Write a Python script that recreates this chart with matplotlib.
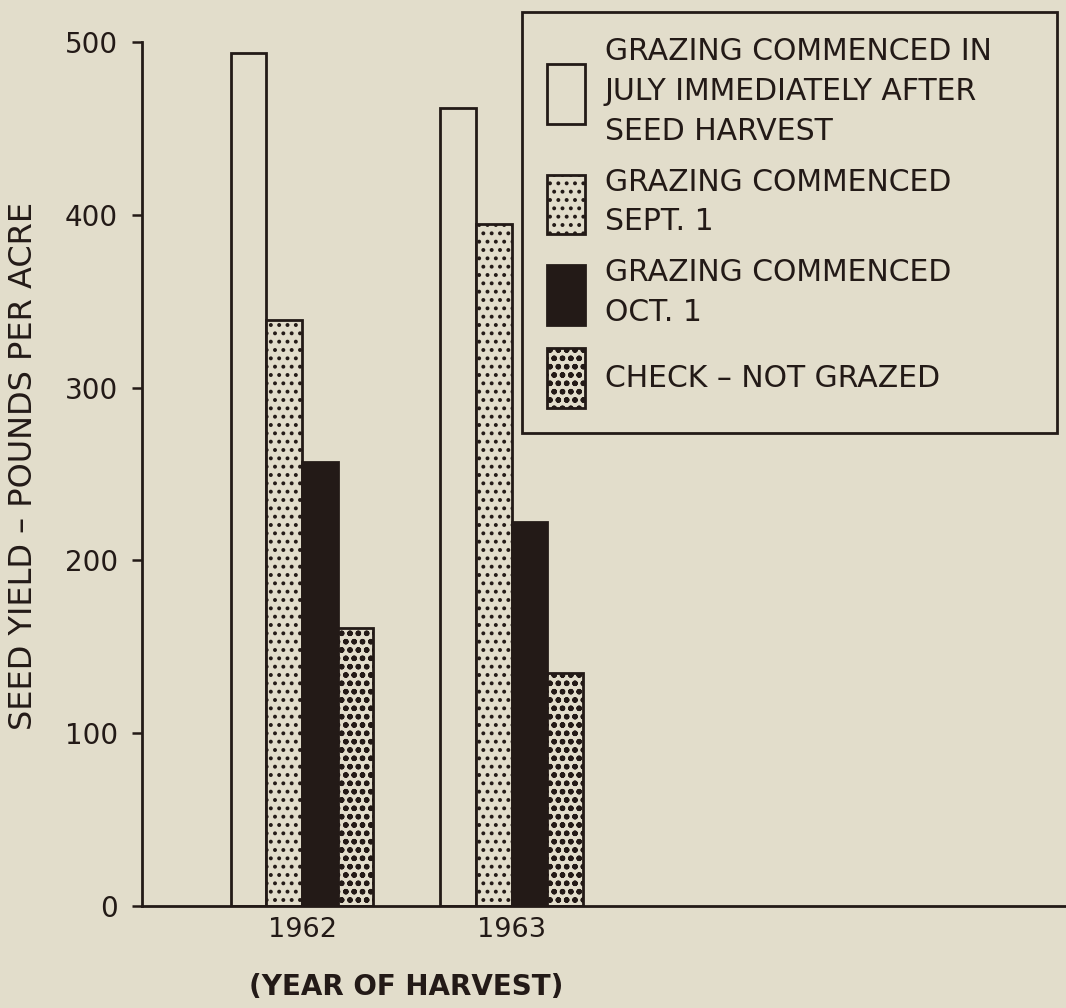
import matplotlib
matplotlib.use("Agg")
import matplotlib.pyplot as plt
import numpy as np

# ---- data ----
years = ["1962", "1963"]
series_labels = [
    "GRAZING COMMENCED IN\nJULY IMMEDIATELY AFTER\nSEED HARVEST",
    "GRAZING COMMENCED\nSEPT. 1",
    "GRAZING COMMENCED\nOCT. 1",
    "CHECK \u2013 NOT GRAZED",
]
july = [494, 462]
sept = [339, 395]
octo = [257, 222]
check = [161, 135]
yticks = [0, 100, 200, 300, 400, 500]

BG = "#e2ddcb"
INK = "#231a17"

plt.rcParams["font.family"] = ["DejaVu Sans"]
plt.rcParams["hatch.linewidth"] = 1.6
plt.rcParams["hatch.color"] = INK

fig = plt.figure(figsize=(10.66, 10.08), dpi=100, facecolor=BG)
ax = fig.add_axes([0.1332, 0.1012, 0.8668, 0.857])
ax.set_facecolor(BG)

x = np.arange(len(years))
w = 0.17
styles = [
    dict(color=BG, hatch=None),
    dict(color=BG, hatch=".."),
    dict(color=INK, hatch=None),
    dict(color=BG, hatch="oo"),
]
series = [july, sept, octo, check]
for i, (vals, st, lab) in enumerate(zip(series, styles, series_labels)):
    ax.bar(x + (i - 1.5) * w, vals, width=w, facecolor=st["color"],
           edgecolor=INK, linewidth=2.0, hatch=st["hatch"], label=lab)

ax.set_ylim(0, 500)
ax.set_xlim(-0.764, 3.647)
ax.set_yticks(yticks)
ax.set_yticklabels([str(t) for t in yticks])
ax.set_xticks(x)
ax.set_xticklabels(years)

for s in ["top", "right"]:
    ax.spines[s].set_visible(False)
ax.spines["left"].set_bounds(0, 500)
for s in ["left", "bottom"]:
    ax.spines[s].set_linewidth(2.0)
    ax.spines[s].set_color(INK)

ax.tick_params(axis="y", length=7.5, width=1.8, color=INK, pad=10,
               labelsize=20, labelcolor=INK)
ax.tick_params(axis="x", length=0, pad=8, labelsize=19.5, labelcolor=INK)

ax.set_ylabel("SEED YIELD \u2013 POUNDS PER ACRE", fontsize=23, color=INK)
ax.yaxis.set_label_coords(-0.111, 0.509)
ax.set_xlabel("(YEAR OF HARVEST)", fontsize=20, fontweight="bold", color=INK)
ax.xaxis.set_label_coords(0.286, -0.077)

leg = ax.legend(loc="upper left",
                bbox_to_anchor=(0.4897, 0.573, 0.5019, 0.415),
                bbox_transform=fig.transFigure, mode="expand",
                borderaxespad=0, fontsize=21.5, frameon=True, fancybox=False,
                handlelength=1.27, handleheight=2.7, handletextpad=0.65,
                labelspacing=0.72, borderpad=0.85)
fr = leg.get_frame()
fr.set_edgecolor(INK)
fr.set_linewidth(2.0)
fr.set_facecolor(BG)
fr.set_alpha(1)
for t in leg.get_texts():
    t.set_color(INK)
    t.set_linespacing(1.47)

fig.savefig("out.png", dpi=100, facecolor=BG)
